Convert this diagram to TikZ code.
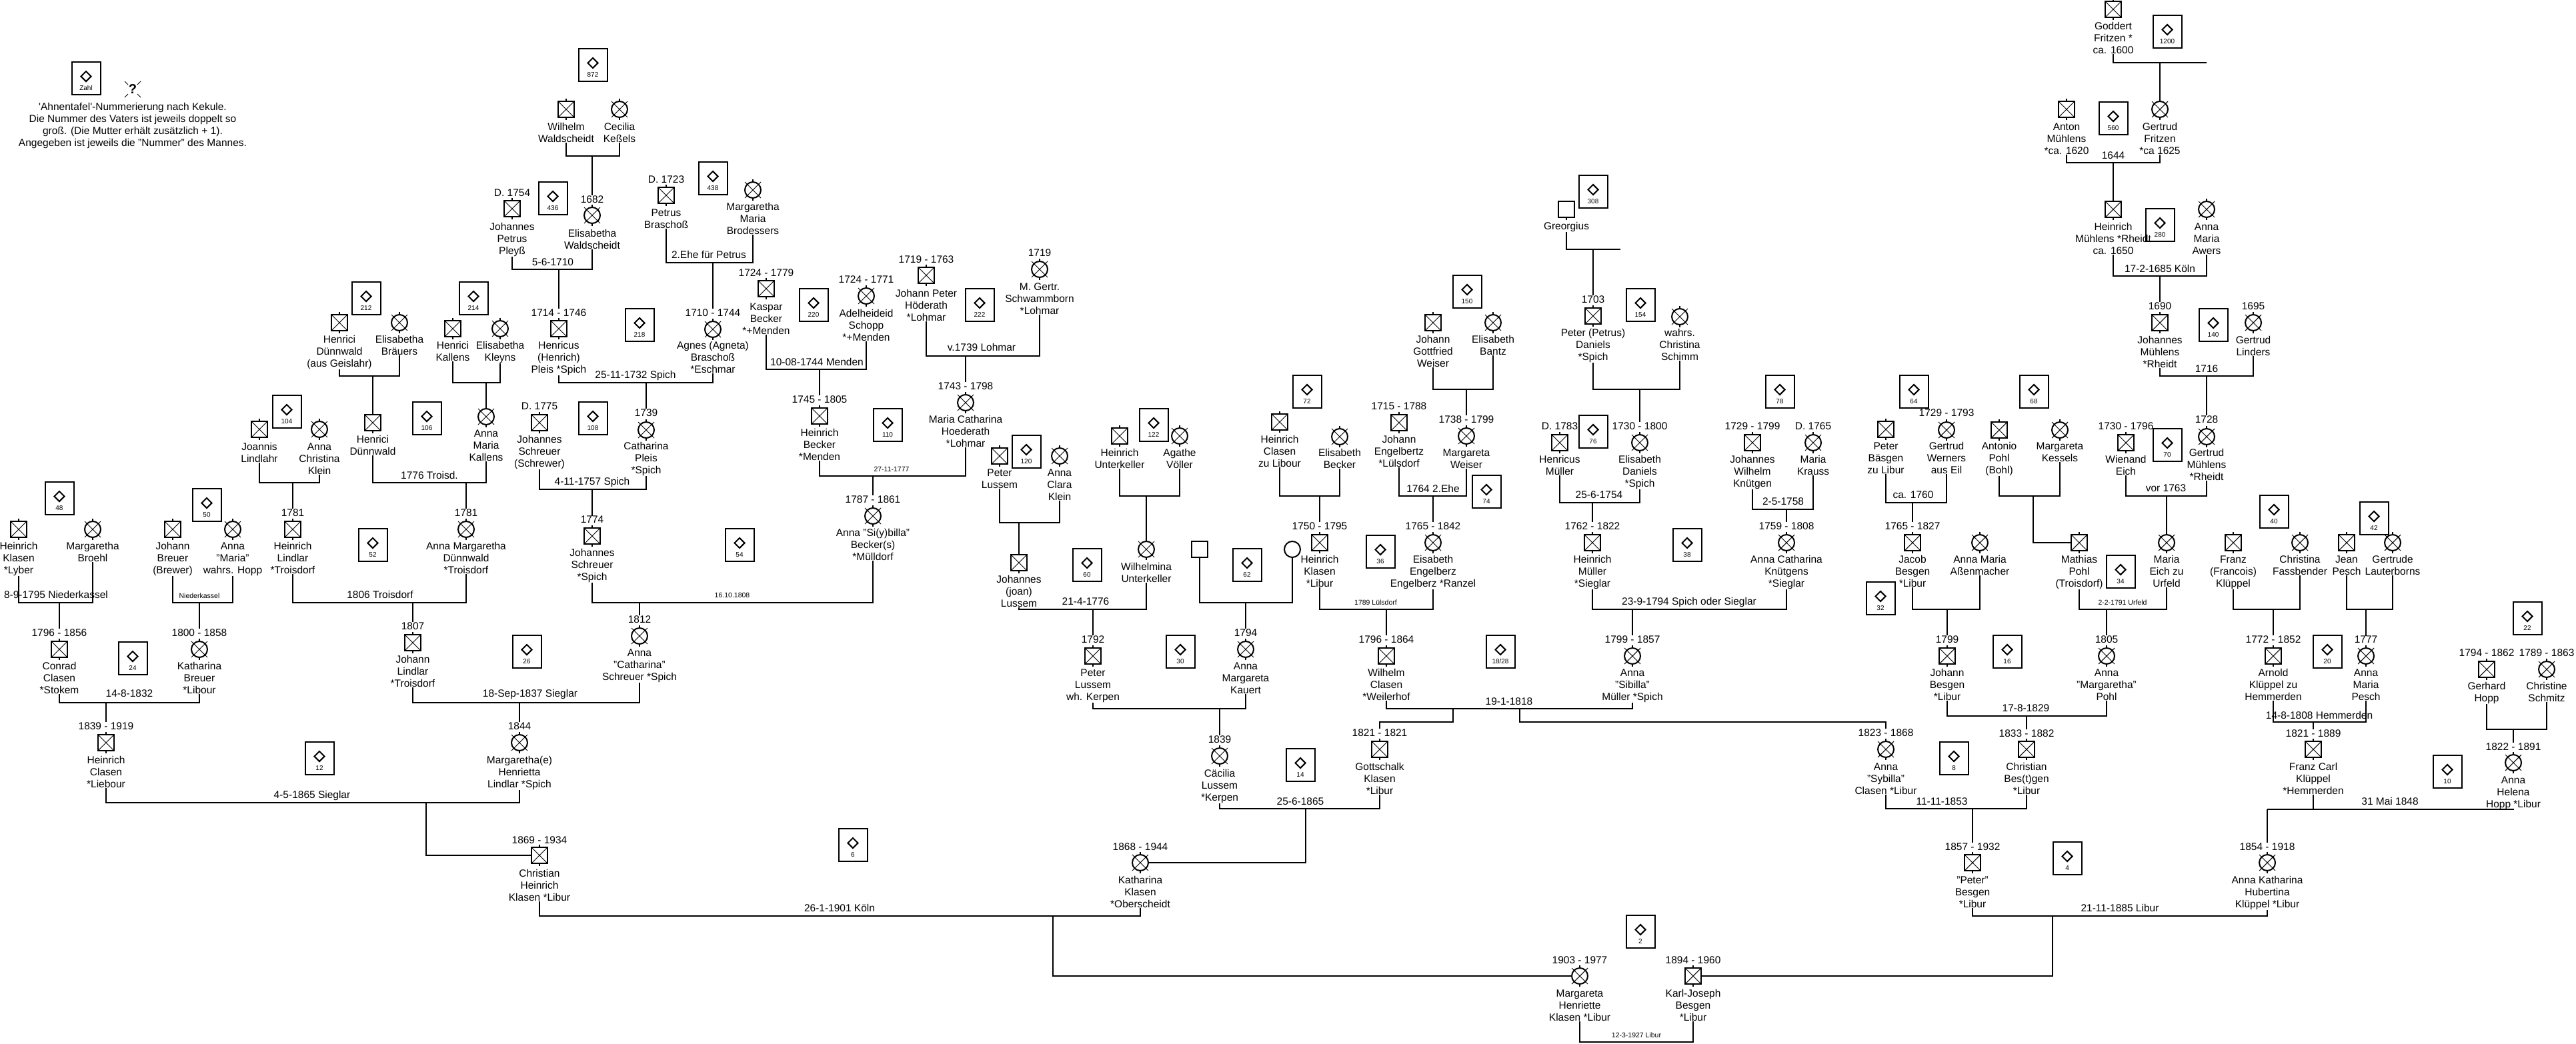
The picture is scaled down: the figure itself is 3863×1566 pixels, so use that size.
\documentclass[tikz,border=0pt]{standalone}
\usepackage{fontspec}
\setmainfont{Liberation Sans}
\usetikzlibrary{shapes.geometric}
\tikzset{
 male/.style={draw, line width=2pt, minimum width=24pt, minimum height=24pt, inner sep=0pt, outer sep=0pt},
 female/.style={draw, circle, line width=2pt, minimum size=24pt, inner sep=0pt, outer sep=0pt},
 numbox/.style={draw, line width=2pt, minimum width=43pt, minimum height=49pt, inner sep=0pt},
 diam/.style={draw, diamond, line width=2pt, minimum width=16pt, minimum height=16pt, inner sep=0pt, aspect=1},
 numtxt/.style={font=\fontsize{10}{12}\selectfont, inner sep=0pt, anchor=base},
 txt/.style={font=\fontsize{15.5}{18}\selectfont, align=center, inner sep=0pt, anchor=north},
 lbl/.style={font=\fontsize{15.5}{18}\selectfont, inner sep=0pt, anchor=base},
 slbl/.style={font=\fontsize{10.5}{12}\selectfont, inner sep=0pt, anchor=base},
 conn/.style={line width=2.2pt},
 xline/.style={line width=1pt},
}
\newcommand\Pm[3]{\node[male] (p-#1) at (#2,#3) {};
 \draw[xline] (p-#1.north west) -- (p-#1.south east) (p-#1.north east) -- (p-#1.south west);
 \draw[conn] (p-#1.north) -- ++(0,-4) (p-#1.south) -- ++(0,4);}
\newcommand\Pf[3]{\node[female] (p-#1) at (#2,#3) {};
 \draw[xline] ({#2-12},{#3-12}) -- ({#2+12},{#3+12}) ({#2+12},{#3-12}) -- ({#2-12},{#3+12});
 \draw[conn] (p-#1.north) -- ++(0,-4) (p-#1.south) -- ++(0,4);}
\newcommand\Pme[3]{\node[male] (p-#1) at (#2,#3) {}; \draw[conn] (p-#1.south) -- ++(0,4);}
\newcommand\Pfe[3]{\node[female] (p-#1) at (#2,#3) {};}
\newcommand\Tx[4]{\node[txt] (t-#1) at (#2,{#3-5.5}) {#4};}
\newcommand\Dt[4]{\node[lbl] (d-#1) at (#2,{#3+5.5}) {#4};}
\newcommand\Ml[4]{\node[lbl] (#1) at (#2,{#3+5.5}) {#4};}
\newcommand\Ms[4]{\node[slbl] (#1) at (#2,{#3+3.8}) {#4};}
\newcommand\Nb[4]{\node[numbox] (n#1) at (#2,#3) {};
 \node[diam] (n#1d) at ([yshift=2.5pt]n#1.center) {};
 \node[numtxt] (n#1t) at ([yshift=-18pt]n#1.center) {#4};}
\begin{document}
\begin{tikzpicture}[x=1pt,y=-1pt]
\fill[white] (0,0) rectangle (3863,1566);
\useasboundingbox (0,0) rectangle (3863,1566);

% legend
\Nb{zahl}{129}{117}{Zahl}
\node[font=\fontsize{20}{20}\selectfont\bfseries, inner sep=0pt] (qm) at (199,134) {?};
\draw[xline] (187,122)--(192,127) (211,122)--(206,127) (187,146)--(192,141) (211,146)--(206,141);
\node[txt] (legend) at (199,154.5) {\textquotesingle Ahnentafel\textquotesingle-Nummerierung nach Kekule.\\Die Nummer des Vaters ist jeweils doppelt so\\groß. (Die Mutter erhält zusätzlich + 1).\\Angegeben ist jeweils die "Nummer" des Mannes.};

% number boxes
\Nb{872}{889}{97}{872} \Nb{436}{829}{297}{436} \Nb{438}{1069}{267}{438}
\Nb{212}{549}{447}{212} \Nb{214}{710}{447}{214} \Nb{218}{959}{487}{218}
\Nb{220}{1220}{457}{220} \Nb{222}{1469}{457}{222} \Nb{308}{2389}{287}{308}
\Nb{154}{2460}{457}{154} \Nb{150}{2200}{437}{150} \Nb{1200}{3250}{47}{1200}
\Nb{560}{3169}{177}{560} \Nb{280}{3239}{337}{280} \Nb{140}{3319}{487}{140}
\Nb{104}{430}{617}{104} \Nb{106}{640}{627}{106} \Nb{108}{889}{627}{108}
\Nb{110}{1331}{637}{110} \Nb{120}{1539}{677}{120} \Nb{122}{1730}{637}{122}
\Nb{72}{1960}{587}{72} \Nb{74}{2229}{737}{74} \Nb{76}{2389}{647}{76}
\Nb{78}{2669}{587}{78} \Nb{64}{2870}{587}{64} \Nb{68}{3050}{587}{68}
\Nb{70}{3250}{667}{70} \Nb{48}{89}{747}{48} \Nb{50}{310}{757}{50}
\Nb{52}{559}{817}{52} \Nb{54}{1109}{817}{54} \Nb{60}{1630}{847}{60}
\Nb{62}{1870}{847}{62} \Nb{36}{2070}{827}{36} \Nb{38}{2530}{817}{38}
\Nb{32}{2820}{897}{32} \Nb{34}{3180}{857}{34} \Nb{40}{3410}{767}{40}
\Nb{42}{3560}{777}{42} \Nb{22}{3790}{927}{22} \Nb{24}{199}{987}{24}
\Nb{26}{790}{977}{26} \Nb{30}{1770}{977}{30} \Nb{1828}{2250}{977}{18/28}
\Nb{16}{3010}{977}{16} \Nb{20}{3490}{977}{20} \Nb{12}{479}{1137}{12}
\Nb{14}{1950}{1147}{14} \Nb{8}{2930}{1137}{8} \Nb{10}{3670}{1157}{10}
\Nb{6}{1279}{1267}{6} \Nb{4}{3100}{1287}{4} \Nb{2}{2460}{1397}{2}

% persons
\Pm{wil}{849}{164} \Tx{wil}{849}{190}{Wilhelm\\Waldscheidt}
\Pf{cec}{929}{164} \Tx{cec}{929}{190}{Cecilia\\Keßels}
\Pf{eli}{888}{323} \Dt{eli}{888}{299}{1682} \Tx{eli}{888}{350}{Elisabetha\\Waldscheidt}
\Pm{joh}{768}{313} \Dt{joh}{768}{289}{D. 1754} \Tx{joh}{768}{340}{Johannes\\Petrus\\Pleyß}
\Pm{hen}{838}{493} \Dt{hen}{838}{469}{1714 - 1746} \Tx{hen}{838}{518}{Henricus\\(Henrich)\\Pleis *Spich}
\Pm{pet}{999}{293} \Dt{pet}{999}{269}{D. 1723} \Tx{pet}{999}{319}{Petrus\\Braschoß}
\Pf{mmb}{1129}{285} \Tx{mmb}{1129}{310}{Margaretha\\Maria\\Brodessers}
\Pf{agn}{1069}{494} \Dt{agn}{1069}{469}{1710 - 1744} \Tx{agn}{1069}{518}{Agnes (Agneta)\\Braschoß\\*Eschmar}
\Pm{hda}{509}{484} \Tx{hda}{509}{509}{Henrici\\Dünnwald\\(aus Geislahr)}
\Pf{ebr}{599}{484} \Tx{ebr}{599}{509}{Elisabetha\\Bräuers}
\Pm{hka}{679}{493} \Tx{hka}{679}{518}{Henrici\\Kallens}
\Pf{ekl}{750}{493} \Tx{ekl}{750}{518}{Elisabetha\\Kleyns}
\Pm{jla}{389}{644} \Tx{jla}{389}{670}{Joannis\\Lindlahr}
\Pf{ack}{479}{644} \Tx{ack}{479}{670}{Anna\\Christina\\Klein}
\Pm{hdb}{559}{634} \Tx{hdb}{559}{659}{Henrici\\Dünnwald}
\Pf{amk}{729}{625} \Tx{amk}{729}{650}{Anna\\Maria\\Kallens}
\Pm{js1}{809}{634} \Dt{js1}{809}{609}{D. 1775} \Tx{js1}{809}{659}{Johannes\\Schreuer\\(Schrewer)}
\Pf{cp}{969}{645} \Dt{cp}{969}{619}{1739} \Tx{cp}{969}{669}{Catharina\\Pleis\\*Spich}
\Pm{kb}{1149}{433} \Dt{kb}{1149}{409}{1724 - 1779} \Tx{kb}{1149}{460}{Kaspar\\Becker\\*+Menden}
\Pf{as}{1299}{444} \Dt{as}{1299}{419}{1724 - 1771} \Tx{as}{1299}{470}{Adelheideid\\Schopp\\*+Menden}
\Pm{jph}{1389}{413} \Dt{jph}{1389}{389}{1719 - 1763} \Tx{jph}{1389}{440}{Johann Peter\\Höderath\\*Lohmar}
\Pf{mgs}{1559}{404} \Dt{mgs}{1559}{379}{1719} \Tx{mgs}{1559}{430}{M. Gertr.\\Schwammborn\\*Lohmar}
\Pm{hb}{1229}{624} \Dt{hb}{1229}{599}{1745 - 1805} \Tx{hb}{1229}{649}{Heinrich\\Becker\\*Menden}
\Pf{mch}{1448}{604} \Dt{mch}{1448}{579}{1743 - 1798} \Tx{mch}{1448}{629}{Maria Catharina\\Hoederath\\*Lohmar}
\Pf{asb}{1309}{774} \Dt{asb}{1309}{749}{1787 - 1861} \Tx{asb}{1309}{799}{Anna "Si(y)billa"\\Becker(s)\\*Mülldorf}
\Pme{gre}{2349}{314} \Tx{gre}{2349}{339}{Greorgius}
\Pm{ppd}{2389}{474} \Dt{ppd}{2389}{449}{1703} \Tx{ppd}{2389}{499}{Peter (Petrus)\\Daniels\\*Spich}
\Pf{wcs}{2519}{475} \Tx{wcs}{2519}{499}{wahrs.\\Christina\\Schimm}
\Pm{jgw}{2149}{484} \Tx{jgw}{2149}{509}{Johann\\Gottfried\\Weiser}
\Pf{ebz}{2239}{484} \Tx{ebz}{2239}{509}{Elisabeth\\Bantz}
\Pm{gf}{3169}{14} \Tx{gf}{3169}{39}{Goddert\\Fritzen *\\ca. 1600}
\Pm{am}{3099}{164} \Tx{am}{3099}{190}{Anton\\Mühlens\\*ca. 1620}
\Pf{gfr}{3239}{164} \Tx{gfr}{3239}{190}{Gertrud\\Fritzen\\*ca 1625}
\Pm{hm}{3169}{314} \Tx{hm}{3169}{340}{Heinrich\\Mühlens *Rheidt\\ca. 1650}
\Pf{ama}{3309}{314} \Tx{ama}{3309}{340}{Anna\\Maria\\Awers}
\Pm{jm}{3239}{484} \Dt{jm}{3239}{459}{1690} \Tx{jm}{3239}{510}{Johannes\\Mühlens\\*Rheidt}
\Pf{gl}{3379}{484} \Dt{gl}{3379}{459}{1695} \Tx{gl}{3379}{510}{Gertrud\\Linders}
\Pf{gm}{3309}{655} \Dt{gm}{3309}{629}{1728} \Tx{gm}{3309}{679}{Gertrud\\Mühlens\\*Rheidt}
\Pm{hl}{439}{794} \Dt{hl}{439}{769}{1781} \Tx{hl}{439}{819}{Heinrich\\Lindlar\\*Troisdorf}
\Pf{amd}{699}{794} \Dt{amd}{699}{769}{1781} \Tx{amd}{699}{819}{Anna Margaretha\\Dünnwald\\*Troisdorf}
\Pm{js2}{888}{804} \Dt{js2}{888}{779}{1774} \Tx{js2}{888}{829}{Johannes\\Schreuer\\*Spich}
\Pm{hk2}{28}{794} \Tx{hk2}{28}{819}{Heinrich\\Klasen\\*Lyber}
\Pf{mb}{139}{794} \Tx{mb}{139}{819}{Margaretha\\Broehl}
\Pm{jb}{259}{794} \Tx{jb}{259}{819}{Johann\\Breuer\\(Brewer)}
\Pf{amh}{349}{794} \Tx{amh}{349}{819}{Anna\\"Maria"\\wahrs. Hopp}
\Pm{cc}{89}{974} \Dt{cc}{89}{949}{1796 - 1856} \Tx{cc}{89}{999}{Conrad\\Clasen\\*Stokem}
\Pf{kbr}{299}{974} \Dt{kbr}{299}{949}{1800 - 1858} \Tx{kbr}{299}{999}{Katharina\\Breuer\\*Libour}
\Pm{jli}{619}{964} \Dt{jli}{619}{939}{1807} \Tx{jli}{619}{989}{Johann\\Lindlar\\*Troisdorf}
\Pf{acs}{959}{954} \Dt{acs}{959}{929}{1812} \Tx{acs}{959}{979}{Anna\\"Catharina"\\Schreuer *Spich}
\Pm{hcl}{159}{1114} \Dt{hcl}{159}{1089}{1839 - 1919} \Tx{hcl}{159}{1140}{Heinrich\\Clasen\\*Liebour}
\Pf{mhl}{779}{1114} \Dt{mhl}{779}{1089}{1844} \Tx{mhl}{779}{1140}{Margaretha(e)\\Henrietta\\Lindlar *Spich}
\Pm{chk}{809}{1283} \Dt{chk}{809}{1260}{1869 - 1934} \Tx{chk}{809}{1310}{Christian\\Heinrich\\Klasen *Libur}
\Pf{kk}{1710}{1294} \Dt{kk}{1710}{1270}{1868 - 1944} \Tx{kk}{1710}{1320}{Katharina\\Klasen\\*Oberscheidt}
\Pm{pla}{1499}{684} \Tx{pla}{1499}{709}{Peter\\Lussem}
\Pf{acl}{1589}{684} \Tx{acl}{1589}{709}{Anna\\Clara\\Klein}
\Pm{hu}{1679}{654} \Tx{hu}{1679}{679}{Heinrich\\Unterkeller}
\Pf{av}{1769}{654} \Tx{av}{1769}{679}{Agathe\\Völler}
\Pm{jls}{1528}{844} \Tx{jls}{1528}{869}{Johannes\\(joan)\\Lussem}
\Pf{wu}{1719}{824} \Tx{wu}{1719}{850}{Wilhelmina\\Unterkeller}
\Pm{plb}{1639}{984} \Dt{plb}{1639}{959}{1792} \Tx{plb}{1639}{1009}{Peter\\Lussem\\wh. Kerpen}
\Pme{um}{1799}{824}
\Pfe{uf}{1938}{824}
\Pf{amka}{1868}{974} \Dt{amka}{1868}{949}{1794} \Tx{amka}{1868}{999}{Anna\\Margareta\\Kauert}
\Pf{cl}{1829}{1134} \Dt{cl}{1829}{1109}{1839} \Tx{cl}{1829}{1160}{Cäcilia\\Lussem\\*Kerpen}
\Pm{hcz}{1919}{633} \Tx{hcz}{1919}{659}{Heinrich\\Clasen\\zu Libour}
\Pf{ebe}{2009}{655} \Tx{ebe}{2009}{679}{Elisabeth\\Becker}
\Pm{je}{2098}{634} \Dt{je}{2098}{609}{1715 - 1788} \Tx{je}{2098}{659}{Johann\\Engelbertz\\*Lülsdorf}
\Pf{mw}{2199}{654} \Dt{mw}{2199}{629}{1738 - 1799} \Tx{mw}{2199}{679}{Margareta\\Weiser}
\Pm{hkl}{1979}{814} \Dt{hkl}{1979}{789}{1750 - 1795} \Tx{hkl}{1979}{839}{Heinrich\\Klasen\\*Libur}
\Pf{ee}{2149}{814} \Dt{ee}{2149}{789}{1765 - 1842} \Tx{ee}{2149}{839}{Eisabeth\\Engelberz\\Engelberz *Ranzel}
\Pm{wc}{2079}{984} \Dt{wc}{2079}{959}{1796 - 1864} \Tx{wc}{2079}{1009}{Wilhelm\\Clasen\\*Weilerhof}
\Pm{hmu}{2339}{664} \Dt{hmu}{2339}{639}{D. 1783} \Tx{hmu}{2339}{689}{Henricus\\Müller}
\Pf{ed}{2459}{664} \Dt{ed}{2459}{639}{1730 - 1800} \Tx{ed}{2459}{689}{Elisabeth\\Daniels\\*Spich}
\Pm{jwk}{2628}{664} \Dt{jwk}{2628}{639}{1729 - 1799} \Tx{jwk}{2628}{689}{Johannes\\Wilhelm\\Knütgen}
\Pf{mk}{2719}{664} \Dt{mk}{2719}{639}{D. 1765} \Tx{mk}{2719}{689}{Maria\\Krauss}
\Pm{hmi}{2388}{814} \Dt{hmi}{2388}{789}{1762 - 1822} \Tx{hmi}{2388}{839}{Heinrich\\Müller\\*Sieglar}
\Pf{ackn}{2679}{814} \Dt{ackn}{2679}{789}{1759 - 1808} \Tx{ackn}{2679}{839}{Anna Catharina\\Knütgens\\*Sieglar}
\Pf{asm}{2448}{984} \Dt{asm}{2448}{959}{1799 - 1857} \Tx{asm}{2448}{1009}{Anna\\"Sibilla"\\Müller *Spich}
\Pm{gk}{2069}{1124} \Dt{gk}{2069}{1099}{1821 - 1821} \Tx{gk}{2069}{1150}{Gottschalk\\Klasen\\*Libur}
\Pf{ass}{2828}{1124} \Dt{ass}{2828}{1099}{1823 - 1868} \Tx{ass}{2828}{1150}{Anna\\"Sybilla"\\Clasen *Libur}
\Pm{pba}{2828}{644} \Tx{pba}{2828}{669}{Peter\\Bäsgen\\zu Libur}
\Pf{gw}{2919}{645} \Dt{gw}{2919}{619}{1729 - 1793} \Tx{gw}{2919}{669}{Gertrud\\Werners\\aus Eil}
\Pm{ap}{2998}{645} \Tx{ap}{2998}{669}{Antonio\\Pohl\\(Bohl)}
\Pf{mke}{3089}{645} \Tx{mke}{3089}{669}{Margareta\\Kessels}
\Pm{wei}{3188}{664} \Dt{wei}{3188}{639}{1730 - 1796} \Tx{wei}{3188}{689}{Wienand\\Eich}
\Pm{jab}{2868}{814} \Dt{jab}{2868}{789}{1765 - 1827} \Tx{jab}{2868}{839}{Jacob\\Besgen\\*Libur}
\Pf{amas}{2969}{814} \Tx{amas}{2969}{839}{Anna Maria\\Aßenmacher}
\Pm{mp}{3118}{814} \Tx{mp}{3118}{839}{Mathias\\Pohl\\(Troisdorf)}
\Pf{mez}{3249}{814} \Tx{mez}{3249}{839}{Maria\\Eich zu\\Urfeld}
\Pm{fk}{3349}{814} \Tx{fk}{3349}{839}{Franz\\(Francois)\\Klüppel}
\Pf{cf}{3449}{814} \Tx{cf}{3449}{839}{Christina\\Fassbender}
\Pm{jp}{3519}{814} \Tx{jp}{3519}{839}{Jean\\Pesch}
\Pf{gla}{3588}{814} \Tx{gla}{3588}{839}{Gertrude\\Lauterborns}
\Pm{jbe}{2920}{984} \Dt{jbe}{2920}{959}{1799} \Tx{jbe}{2920}{1009}{Johann\\Besgen\\*Libur}
\Pf{amp}{3159}{984} \Dt{amp}{3159}{959}{1805} \Tx{amp}{3159}{1009}{Anna\\"Margaretha"\\Pohl}
\Pm{ak}{3409}{984} \Dt{ak}{3409}{959}{1772 - 1852} \Tx{ak}{3409}{1009}{Arnold\\Klüppel zu\\Hemmerden}
\Pf{ampe}{3548}{984} \Dt{ampe}{3548}{959}{1777} \Tx{ampe}{3548}{1009}{Anna\\Maria\\Pesch}
\Pm{gh}{3729}{1004} \Dt{gh}{3729}{979}{1794 - 1862} \Tx{gh}{3729}{1029}{Gerhard\\Hopp}
\Pf{cs}{3819}{1004} \Dt{cs}{3819}{979}{1789 - 1863} \Tx{cs}{3819}{1029}{Christine\\Schmitz}
\Pm{cb}{3039}{1124} \Dt{cb}{3039}{1100}{1833 - 1882} \Tx{cb}{3039}{1150}{Christian\\Bes(t)gen\\*Libur}
\Pm{fc}{3469}{1124} \Dt{fc}{3469}{1100}{1821 - 1889} \Tx{fc}{3469}{1150}{Franz Carl\\Klüppel\\*Hemmerden}
\Pf{ahh}{3769}{1144} \Dt{ahh}{3769}{1120}{1822 - 1891} \Tx{ahh}{3769}{1170}{Anna\\Helena\\Hopp *Libur}
\Pm{pb}{2958}{1294} \Dt{pb}{2958}{1270}{1857 - 1932} \Tx{pb}{2958}{1320}{"Peter"\\Besgen\\*Libur}
\Pf{akh}{3400}{1294} \Dt{akh}{3400}{1270}{1854 - 1918} \Tx{akh}{3400}{1320}{Anna Katharina\\Hubertina\\Klüppel *Libur}
\Pf{mhk}{2369}{1464} \Dt{mhk}{2369}{1440}{1903 - 1977} \Tx{mhk}{2369}{1490}{Margareta\\Henriette\\Klasen *Libur}
\Pm{kjb}{2539}{1464} \Dt{kjb}{2539}{1440}{1894 - 1960} \Tx{kjb}{2539}{1490}{Karl-Joseph\\Besgen\\*Libur}

% marriage labels
\Ml{m2}{829}{393}{5-6-1710}
\Ml{m3}{1063}{382}{2.Ehe für Petrus}
\Ml{m4}{953}{562}{25-11-1732 Spich}
\Ml{m8}{644}{713}{1776 Troisd.}
\Ml{m9}{888}{722}{4-11-1757 Spich}
\Ml{m10}{1225}{543}{10-08-1744 Menden}
\Ml{m11}{1472}{521}{v.1739 Lohmar}
\Ms{m12}{1337}{704}{27-11-1777}
\Ml{m17}{3169}{233}{1644}
\Ml{m18}{3239}{403}{17-2-1685 Köln}
\Ml{m19}{3309}{553}{1716}
\Ml{m20}{570}{892}{1806 Troisdorf}
\Ms{m21}{1098}{893}{16.10.1808}
\Ml{m22}{84}{892}{8-9-1795 Niederkassel}
\Ms{m23}{299}{894}{Niederkassel}
\Ml{m24}{194}{1040}{14-8-1832}
\Ml{m25}{795}{1040}{18-Sep-1837 Sieglar}
\Ml{m26}{468}{1192}{4-5-1865 Sieglar}
\Ml{m27}{1259}{1362}{26-1-1901 Köln}
\Ml{m30}{1628}{902}{21-4-1776}
\Ml{m33}{1950}{1202}{25-6-1865}
\Ml{m35}{2149}{733}{1764 2.Ehe}
\Ms{m36}{2063}{904}{1789 Lülsdorf}
\Ml{m37}{2398}{742}{25-6-1754}
\Ml{m38}{2674}{752}{2-5-1758}
\Ml{m39}{2533}{902}{23-9-1794 Spich oder Sieglar}
\Ml{m40}{2263}{1052}{19-1-1818}
\Ml{m41}{2912}{1202}{11-11-1853}
\Ml{m42}{2869}{742}{ca. 1760}
\Ml{m44}{3248}{732}{vor 1763}
\Ms{m46}{3183}{904}{2-2-1791 Urfeld}
\Ml{m49}{3038}{1062}{17-8-1829}
\Ml{m50}{3478}{1073}{14-8-1808 Hemmerden}
\Ml{m52}{3584}{1202}{31 Mai 1848}
\Ml{m53}{3179}{1362}{21-11-1885 Libur}
\Ms{m54}{2454}{1553}{12-3-1927 Libur}

% family connectors
\coordinate (F1) at (888,234); \draw[conn] (t-wil.south) |- (F1) -| (t-cec.south); \draw[conn] (F1) -- (d-eli.north);
\coordinate (F2) at (838,404); \draw[conn] (t-joh.south) |- (F2) -| (t-eli.south); \draw[conn] (F2) -- (d-hen.north);
\coordinate (F3) at (1069,394); \draw[conn] (t-pet.south) |- (F3) -| (t-mmb.south); \draw[conn] (F3) -- (d-agn.north);
\coordinate (F4) at (969,574); \draw[conn] (t-hen.south) |- (F4) -| (t-agn.south); \draw[conn] (F4) -- (d-cp.north);
\coordinate (F5) at (559,564); \draw[conn] (t-hda.south) |- (F5) -| (t-ebr.south); \draw[conn] (F5) -- (p-hdb.north);
\coordinate (F6) at (729,574); \draw[conn] (t-hka.south) |- (F6) -| (t-ekl.south); \draw[conn] (F6) -- (p-amk.north);
\coordinate (F7) at (439,724); \draw[conn] (t-jla.south) |- (F7) -| (t-ack.south); \draw[conn] (F7) -- (d-hl.north);
\coordinate (F8) at (699,724); \draw[conn] (t-hdb.south) |- (F8) -| (t-amk.south); \draw[conn] (F8) -- (d-amd.north);
\coordinate (F9) at (888,734); \draw[conn] (t-js1.south) |- (F9) -| (t-cp.south); \draw[conn] (F9) -- (d-js2.north);
\coordinate (F10) at (1229,554); \draw[conn] (t-kb.south) |- (F10) -| (t-as.south); \draw[conn] (F10) -- (d-hb.north);
\coordinate (F11) at (1448,534); \draw[conn] (t-jph.south) |- (F11) -| (t-mgs.south); \draw[conn] (F11) -- (d-mch.north);
\coordinate (F12) at (1309,714); \draw[conn] (t-hb.south) |- (F12) -| (t-mch.south); \draw[conn] (F12) -- (d-asb.north);
\coordinate (F13) at (2389,374); \coordinate (F13e) at (2430,374); \draw[conn] (t-gre.south) |- (F13) -- (F13e); \draw[conn] (F13) -- (d-ppd.north);
\coordinate (F14) at (2459,584); \draw[conn] (t-ppd.south) |- (F14) -| (t-wcs.south); \draw[conn] (F14) -- (d-ed.north);
\coordinate (F15) at (2199,584); \draw[conn] (t-jgw.south) |- (F15) -| (t-ebz.south); \draw[conn] (F15) -- (d-mw.north);
\coordinate (F16) at (3239,94); \coordinate (F16e) at (3309,94); \draw[conn] (t-gf.south) |- (F16) -- (F16e); \draw[conn] (F16) -- (p-gfr.north);
\coordinate (F17) at (3169,244); \draw[conn] (t-am.south) |- (F17) -| (t-gfr.south); \draw[conn] (F17) -- (p-hm.north);
\coordinate (F18) at (3239,414); \draw[conn] (t-hm.south) |- (F18) -| (t-ama.south); \draw[conn] (F18) -- (d-jm.north);
\coordinate (F19) at (3309,564); \draw[conn] (t-jm.south) |- (F19) -| (t-gl.south); \draw[conn] (F19) -- (d-gm.north);
\coordinate (F20) at (619,904); \draw[conn] (t-hl.south) |- (F20) -| (t-amd.south); \draw[conn] (F20) -- (d-jli.north);
\coordinate (F21) at (959,904); \draw[conn] (t-js2.south) |- (F21) -| (t-asb.south); \draw[conn] (F21) -- (d-acs.north);
\coordinate (F22) at (89,904); \draw[conn] (t-hk2.south) |- (F22) -| (t-mb.south); \draw[conn] (F22) -- (d-cc.north);
\coordinate (F23) at (299,904); \draw[conn] (t-jb.south) |- (F23) -| (t-amh.south); \draw[conn] (F23) -- (d-kbr.north);
\coordinate (F24) at (159,1054); \draw[conn] (t-cc.south) |- (F24) -| (t-kbr.south); \draw[conn] (F24) -- (d-hcl.north);
\coordinate (F25) at (779,1054); \draw[conn] (t-jli.south) |- (F25) -| (t-acs.south); \draw[conn] (F25) -- (d-mhl.north);
\coordinate (F26) at (639,1204); \draw[conn] (t-hcl.south) |- (F26) -| (t-mhl.south); \draw[conn] (F26) |- (p-chk.west);
\coordinate (F27) at (1579,1374); \draw[conn] (t-chk.south) |- (F27) -| (t-kk.south); \draw[conn] (F27) |- (p-mhk.west);
\coordinate (F28) at (1528,784); \draw[conn] (t-pla.south) |- (F28) -| (t-acl.south); \draw[conn] (F28) -- (p-jls.north);
\coordinate (F29) at (1719,744); \draw[conn] (t-hu.south) |- (F29) -| (t-av.south); \draw[conn] (F29) -- (p-wu.north);
\coordinate (F30) at (1639,914); \draw[conn] (t-jls.south) |- (F30) -| (t-wu.south); \draw[conn] (F30) -- (d-plb.north);
\coordinate (F31) at (1868,904); \draw[conn] (p-um.south) |- (F31) -| (p-uf.south); \draw[conn] (F31) -- (d-amka.north);
\coordinate (F32) at (1829,1063); \draw[conn] (t-plb.south) |- (F32) -| (t-amka.south); \draw[conn] (F32) -- (d-cl.north);
\coordinate (F33) at (1958,1213); \draw[conn] (t-cl.south) |- (F33) -| (t-gk.south); \draw[conn] (F33) |- (p-kk.east);
\coordinate (F34) at (1979,744); \draw[conn] (t-hcz.south) |- (F34) -| (t-ebe.south); \draw[conn] (F34) -- (d-hkl.north);
\coordinate (F35) at (2149,744); \draw[conn] (t-je.south) |- (F35) -| (t-mw.south); \draw[conn] (F35) -- (d-ee.north);
\coordinate (F36) at (2079,914); \draw[conn] (t-hkl.south) |- (F36) -| (t-ee.south); \draw[conn] (F36) -- (d-wc.north);
\coordinate (F37) at (2388,754); \draw[conn] (t-hmu.south) |- (F37) -| (t-ed.south); \draw[conn] (F37) -- (d-hmi.north);
\coordinate (F38) at (2679,764); \draw[conn] (t-jwk.south) |- (F38) -| (t-mk.south); \draw[conn] (F38) -- (d-ackn.north);
\coordinate (F39) at (2448,914); \draw[conn] (t-hmi.south) |- (F39) -| (t-ackn.south); \draw[conn] (F39) -- (d-asm.north);
\coordinate (F40a) at (2179,1063); \coordinate (F40b) at (2279,1063);
\draw[conn] (t-wc.south) |- (F40a) -- (F40b) -| (t-asm.south);
\draw[conn] (F40a) -- ++(0,20) -| (d-gk.north);
\draw[conn] (F40b) -- ++(0,20) -| (d-ass.north);
\coordinate (F41) at (2958,1213); \draw[conn] (t-ass.south) |- (F41) -| (t-cb.south); \draw[conn] (F41) -- (d-pb.north);
\coordinate (F42) at (2868,754); \draw[conn] (t-pba.south) |- (F42) -| (t-gw.south); \draw[conn] (F42) -- (d-jab.north);
\coordinate (F43) at (3049,744); \draw[conn] (t-ap.south) |- (F43) -| (t-mke.south); \draw[conn] (F43) |- (p-mp.west);
\coordinate (F44) at (3249,744); \draw[conn] (t-wei.south) |- (F44) -| (t-gm.south); \draw[conn] (F44) -- (p-mez.north);
\coordinate (F45) at (2920,914); \draw[conn] (t-jab.south) |- (F45) -| (t-amas.south); \draw[conn] (F45) -- (d-jbe.north);
\coordinate (F46) at (3159,914); \draw[conn] (t-mp.south) |- (F46) -| (t-mez.south); \draw[conn] (F46) -- (d-amp.north);
\coordinate (F47) at (3409,914); \draw[conn] (t-fk.south) |- (F47) -| (t-cf.south); \draw[conn] (F47) -- (d-ak.north);
\coordinate (F48) at (3548,914); \draw[conn] (t-jp.south) |- (F48) -| (t-gla.south); \draw[conn] (F48) -- (d-ampe.north);
\coordinate (F49) at (3039,1074); \draw[conn] (t-jbe.south) |- (F49) -| (t-amp.south); \draw[conn] (F49) -- (d-cb.north);
\coordinate (F50) at (3469,1083); \draw[conn] (t-ak.south) |- (F50) -| (t-ampe.south); \draw[conn] (F50) -- (d-fc.north);
\coordinate (F51) at (3769,1094); \draw[conn] (t-gh.south) |- (F51) -| (t-cs.south); \draw[conn] (F51) -- (d-ahh.north);
\coordinate (F52) at (3400,1214); \draw[conn] (t-fc.south) |- (F52); \draw[conn] (F52) -| (t-ahh.south); \draw[conn] (F52) -- (d-akh.north);
\coordinate (F53) at (3078,1374); \draw[conn] (t-pb.south) |- (F53) -| (t-akh.south); \draw[conn] (F53) |- (p-kjb.east);
\coordinate (F54) at (2454,1563); \draw[conn] (t-mhk.south) |- (F54) -| (t-kjb.south);
\end{tikzpicture}
\end{document}
